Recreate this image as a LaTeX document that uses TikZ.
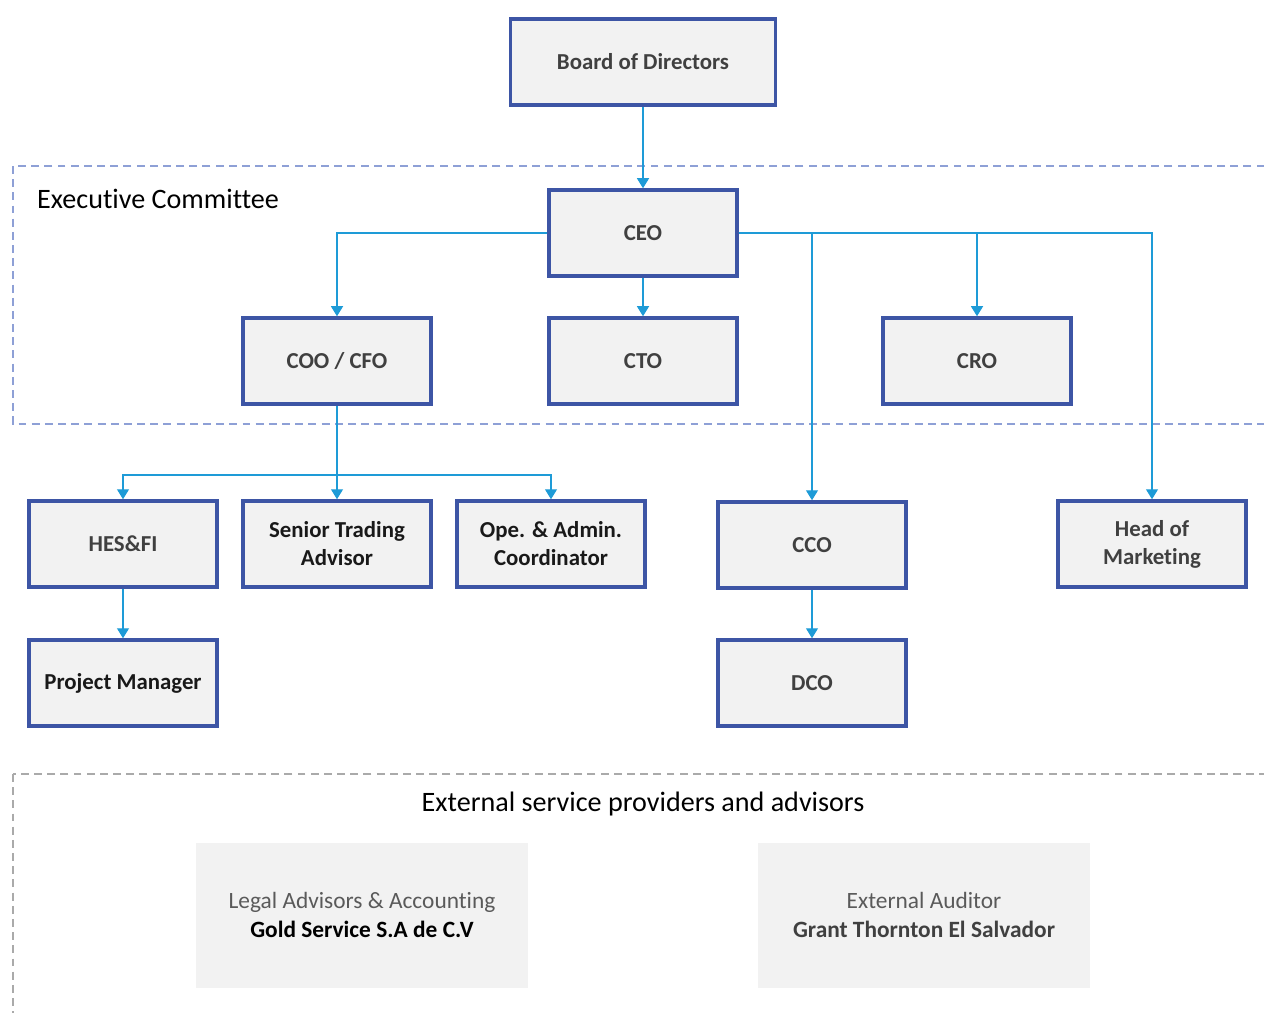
\documentclass[tikz,border=0pt]{standalone}
\usepackage{fontspec}
\setmainfont{Carlito}[Ligatures=NoCommon]
\usetikzlibrary{arrows.meta}

\definecolor{boxblue}{RGB}{61,85,165}
\definecolor{linkblue}{RGB}{30,155,215}
\definecolor{execdash}{RGB}{142,160,214}
\definecolor{extdash}{RGB}{170,170,170}
\definecolor{boxfill}{RGB}{242,242,242}
\definecolor{labelgray}{RGB}{64,64,64}
\definecolor{lightgray}{RGB}{90,90,90}

\tikzset{
  orgbox/.style={draw=boxblue, line width=2pt, fill=boxfill, minimum width=3.76cm,
    minimum height=1.72cm, inner sep=0pt, align=center, text=labelgray,
    font=\fontsize{13}{16}\selectfont\bfseries},
  darklabel/.style={text=black!90},
  extbox/.style={fill=boxfill, minimum width=6.66cm, minimum height=2.9cm,
    inner sep=0pt, align=center, font=\fontsize{13.3}{16.4}\selectfont},
  link/.style={draw=linkblue, line width=0.8pt, -{Triangle[width=6.8pt,length=5.7pt]}}
}

\begin{document}
\begin{tikzpicture}[x=0.02cm, y=-0.02cm]
  \clip (0,0) rectangle (1264,1012);

  % Rahmen
  \draw[execdash, line width=0.9pt, dash pattern=on 4.5pt off 3pt] (13,166) rectangle (1290,424);
  \draw[extdash, line width=0.9pt, dash pattern=on 4.5pt off 3pt] (13,774) rectangle (1290,1040);
  \node[anchor=west, font=\fontsize{16}{19}\selectfont] (exectitle) at (31,199) {Executive Committee};
  \node[font=\fontsize{16}{19}\selectfont] (exttitle) at (643,804) {External service providers and advisors};

  % Leitung
  \node[orgbox, minimum width=5.3cm] (board) at (643,62) {Board of Directors};
  \node[orgbox] (ceo) at (643,233) {CEO};
  \node[orgbox] (coo) at (337,361) {COO / CFO};
  \node[orgbox] (cto) at (643,361) {CTO};
  \node[orgbox] (cro) at (977,361) {CRO};

  \node[orgbox] (hes) at (123,544) {HES\&FI};
  \node[orgbox, darklabel] (sta) at (337,544) {Senior Trading\\Advisor};
  \node[orgbox, darklabel] (ope) at (551,544) {Ope. \& Admin.\\Coordinator};
  \node[orgbox] (cco) at (812,545) {CCO};
  \node[orgbox] (hom) at (1152,544) {Head of\\Marketing};

  \node[orgbox, darklabel] (pm) at (123,683) {Project Manager};
  \node[orgbox] (dco) at (812,683) {DCO};

  % externe Berater
  \node[extbox] (legal) at (362,915) {\textcolor{lightgray}{Legal Advisors \& Accounting}\\\textbf{Gold Service S.A de C.V}};
  \node[extbox] (audit) at (924,915) {\textcolor{lightgray}{External Auditor}\\\textcolor{labelgray}{\textbf{Grant Thornton El Salvador}}};

  \draw[link] (board) -- (ceo);
  \draw[link] (ceo) -- (cto);
  \draw[link] (ceo.west) -| (coo.north);
  \draw[link] (ceo.east) -| (cro.north);
  \draw[link] (ceo.east) -| (cco.north);
  \draw[link] (ceo.east) -| (hom.north);

  \coordinate (split) at (337,475);
  \draw[draw=linkblue, line width=0.8pt] (coo.south) -- (split);
  \draw[link] (split) -| (hes.north);
  \draw[link] (split) -- (sta.north);
  \draw[link] (split) -| (ope.north);

  \draw[link] (hes) -- (pm);
  \draw[link] (cco) -- (dco);
\end{tikzpicture}
\end{document}
